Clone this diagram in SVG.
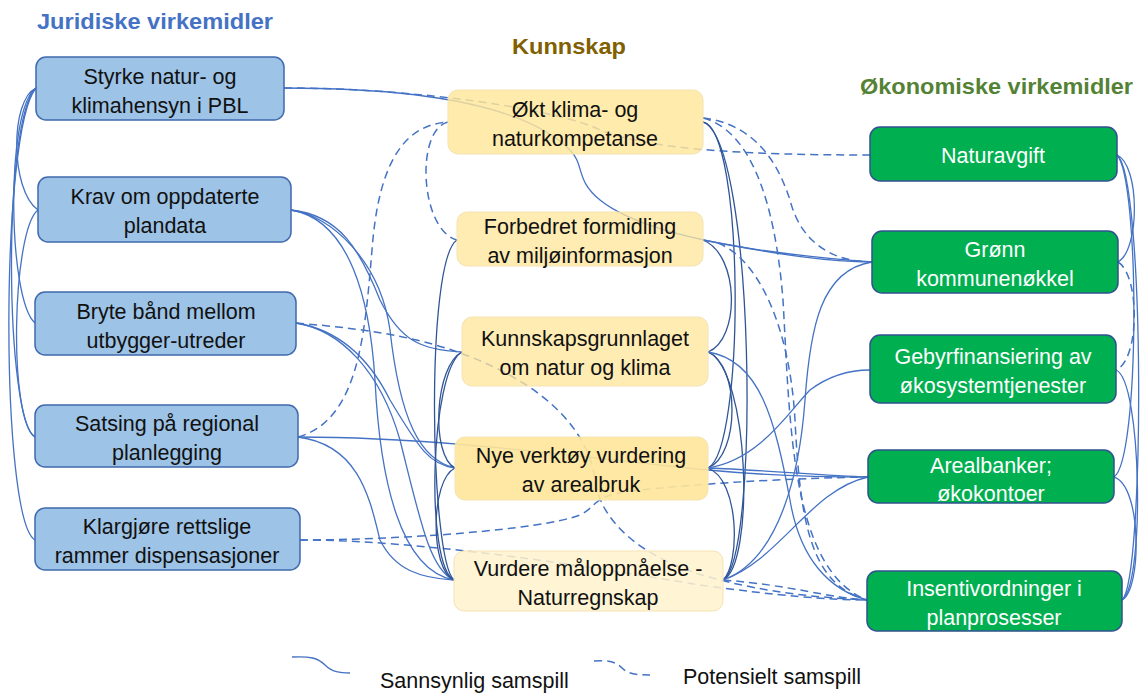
<svg xmlns="http://www.w3.org/2000/svg" width="1144" height="693" viewBox="0 0 1144 693">
<style>
.t{font-family:"Liberation Sans",Arial,sans-serif;font-size:21.5px;text-anchor:middle}
.w{fill:#ffffff}
.k{fill:#111111}
.h{font-family:"Liberation Sans",Arial,sans-serif;font-weight:bold;font-size:22px}
.jl{fill:#9DC3E6;stroke:#3F6AAE;stroke-width:1.5}
.km{stroke:#F4E3B0;stroke-width:1}
.ok{fill:#00B050;stroke:#2F528F;stroke-width:1.5}
.s{fill:none;stroke:#4472C4;stroke-width:1.3}
.n{fill:none;stroke:#2F5597;stroke-width:1.3}
.d{fill:none;stroke:#4472C4;stroke-width:1.5;stroke-dasharray:8 5}
</style>
<rect width="1144" height="693" fill="#ffffff"/>
<text class="h" x="37" y="29" fill="#4472C4" textLength="236" lengthAdjust="spacingAndGlyphs">Juridiske virkemidler</text>
<text class="h" x="512" y="54" fill="#806000" textLength="114" lengthAdjust="spacingAndGlyphs">Kunnskap</text>
<text class="h" x="860" y="94" fill="#548235" textLength="273" lengthAdjust="spacingAndGlyphs">Økonomiske virkemidler</text>

<g id="connectors">
<!-- left bundle -->
<path class="s" d="M36,88 C10,100 10,190 38,210"/>
<path class="s" d="M36,88 C5,110 8,300 35,323"/>
<path class="s" d="M36,88 C2,120 5,420 35,437"/>
<path class="s" d="M36,88 C0,130 0,520 35,540"/>
<path class="s" d="M38,210 C12,230 8,420 35,437"/>
<!-- left to middle / right -->
<path class="s" d="M284,88 C400,88 520,100 570,150 C585,165 575,180 600,200 C650,240 780,255 872,262"/>
<path class="d" d="M284,88 C420,88 560,110 600,130 C650,150 750,155 870,155"/>
<path class="s" d="M291,210 C340,215 360,250 380,300 C400,340 420,350 462,352"/>
<path class="s" d="M291,210 C350,220 370,300 375,380 C380,480 400,570 454,580"/>
<path class="s" d="M291,210 C330,215 380,260 390,330 C400,420 420,460 455,468"/>
<path class="d" d="M296,323 C380,330 440,340 500,370 C560,400 590,440 595,480 C600,520 640,560 720,580 C780,595 830,598 867,600"/>
<path class="s" d="M296,323 C340,330 380,370 400,440 C420,520 430,570 454,580"/>
<path class="s" d="M296,323 C340,330 370,360 390,400 C420,450 430,465 455,468"/>
<path class="s" d="M298,437 C450,437 600,460 708,470 C760,475 820,477 868,477"/>
<path class="d" d="M298,437 C360,420 365,330 372,250 C378,170 400,125 448,122"/>
<path class="s" d="M298,437 C360,445 370,500 380,540 C395,570 420,578 454,580"/>
<path class="d" d="M300,540 C400,540 540,530 580,515 C600,505 590,495 640,490 C720,482 800,478 868,477"/>
<path class="d" d="M300,540 C420,540 580,565 700,585 C780,596 830,600 867,600"/>
<!-- middle left arcs -->
<path class="d" d="M448,122 C415,130 420,230 457,240"/>
<path class="n" d="M457,240 C425,260 430,560 454,580"/>
<path class="n" d="M462,352 C435,365 430,455 455,468"/>
<path class="n" d="M462,352 C430,370 425,565 454,580"/>
<path class="n" d="M455,468 C430,480 430,570 454,580"/>
<!-- middle right arcs -->
<path class="n" d="M703,122 C745,130 745,450 708,468"/>
<path class="n" d="M703,122 C755,140 760,560 723,580"/>
<path class="n" d="M703,240 C740,255 740,340 708,352"/>
<path class="n" d="M708,352 C740,365 740,455 708,468"/>
<path class="n" d="M708,352 C750,370 755,565 723,580"/>
<path class="n" d="M708,468 C740,480 740,565 723,580"/>
<!-- middle to right -->
<path class="s" d="M703,240 C780,255 830,262 872,262"/>
<path class="d" d="M703,118 C760,125 780,170 790,200 C800,240 830,262 872,262"/>
<path class="d" d="M703,118 C750,130 775,200 783,300 C790,420 790,570 867,600"/>
<path class="d" d="M718,243 C760,260 790,330 795,420 C800,520 810,585 867,600"/>
<path class="s" d="M708,352 C760,360 775,420 790,500 C800,560 830,590 867,600"/>
<path class="s" d="M708,468 C760,460 790,410 810,390 C830,375 850,370 870,370"/>
<path class="s" d="M708,468 C760,470 820,475 868,477"/>
<path class="s" d="M723,580 C780,560 800,470 805,400 C810,330 820,270 872,262"/>
<path class="s" d="M723,580 C780,560 810,490 868,477"/>
<path class="d" d="M723,580 C790,585 830,598 867,600"/>
<!-- right edge -->
<path class="s" d="M1117,155 C1140,165 1140,250 1118,262"/>
<path class="s" d="M1117,155 C1145,175 1145,580 1122,600"/>
<path class="d" d="M1118,262 C1140,275 1140,360 1116,370"/>
<path class="s" d="M1116,370 C1142,380 1145,585 1122,600"/>
<path class="s" d="M1114,477 C1140,460 1140,180 1117,155"/>
<path class="s" d="M1114,477 C1142,485 1142,590 1122,600"/>
</g>

<g id="L1"><rect class="jl" x="36" y="57" width="248" height="63" rx="10"/><text class="t k" x="160" y="84">Styrke natur- og</text><text class="t k" x="160" y="113">klimahensyn i PBL</text></g>
<g id="L2"><rect class="jl" x="38" y="177" width="253" height="65" rx="10"/><text class="t k" x="165" y="204">Krav om oppdaterte</text><text class="t k" x="165" y="233">plandata</text></g>
<g id="L3"><rect class="jl" x="35" y="292" width="261" height="63" rx="10"/><text class="t k" x="166" y="319">Bryte bånd mellom</text><text class="t k" x="166" y="348">utbygger-utreder</text></g>
<g id="L4"><rect class="jl" x="35" y="405" width="263" height="62" rx="10"/><text class="t k" x="167" y="431">Satsing på regional</text><text class="t k" x="167" y="460">planlegging</text></g>
<g id="L5"><rect class="jl" x="35" y="508" width="265" height="62" rx="10"/><text class="t k" x="167" y="534">Klargjøre rettslige</text><text class="t k" x="167" y="563">rammer dispensasjoner</text></g>

<g id="M1"><rect class="km" x="448" y="90" width="255" height="64" rx="10" fill="#FFE699" fill-opacity="0.82"/><text class="t k" x="575" y="117">Økt klima- og</text><text class="t k" x="575" y="146">naturkompetanse</text></g>
<g id="M2"><rect class="km" x="457" y="212" width="246" height="54" rx="10" fill="#FFE699" fill-opacity="0.75"/><text class="t k" x="580" y="234">Forbedret formidling</text><text class="t k" x="580" y="263">av miljøinformasjon</text></g>
<g id="M3"><rect class="km" x="462" y="317" width="246" height="69" rx="10" fill="#FFE699" fill-opacity="0.75"/><text class="t k" x="585" y="346">Kunnskapsgrunnlaget</text><text class="t k" x="585" y="375">om natur og klima</text></g>
<g id="M4"><rect class="km" x="455" y="437" width="253" height="63" rx="10" fill="#FFE699" fill-opacity="0.9"/><text class="t k" x="581" y="463">Nye verktøy vurdering</text><text class="t k" x="581" y="492">av arealbruk</text></g>
<g id="M5"><rect class="km" x="454" y="551" width="269" height="60" rx="10" fill="#FFF2CC" fill-opacity="0.85"/><text class="t k" x="588" y="576">Vurdere måloppnåelse -</text><text class="t k" x="588" y="605">Naturregnskap</text></g>

<g id="R1"><rect class="ok" x="870" y="127" width="247" height="54" rx="10"/><text class="t w" x="993" y="163">Naturavgift</text></g>
<g id="R2"><rect class="ok" x="872" y="231" width="246" height="62" rx="10"/><text class="t w" x="995" y="257">Grønn</text><text class="t w" x="995" y="286">kommunenøkkel</text></g>
<g id="R3"><rect class="ok" x="870" y="335" width="246" height="68" rx="10"/><text class="t w" x="993" y="364">Gebyrfinansiering av</text><text class="t w" x="993" y="393">økosystemtjenester</text></g>
<g id="R4"><rect class="ok" x="868" y="450" width="246" height="53" rx="10"/><text class="t w" x="991" y="473">Arealbanker;</text><text class="t w" x="991" y="501">økokontoer</text></g>
<g id="R5"><rect class="ok" x="867" y="571" width="255" height="60" rx="10"/><text class="t w" x="994" y="596">Insentivordninger i</text><text class="t w" x="994" y="625">planprosesser</text></g>

<g id="legend">
<path class="s" d="M292,657 C310,656 318,658 325,665 C332,672 340,673 350,673" stroke-width="1.6"/>
<text class="t k" x="380" y="688" style="text-anchor:start">Sannsynlig samspill</text>
<path class="d" d="M594,661 C610,660 616,662 622,668 C628,674 636,675 650,675" stroke-width="1.6"/>
<text class="t k" x="683" y="684" style="text-anchor:start">Potensielt samspill</text>
</g>
</svg>
